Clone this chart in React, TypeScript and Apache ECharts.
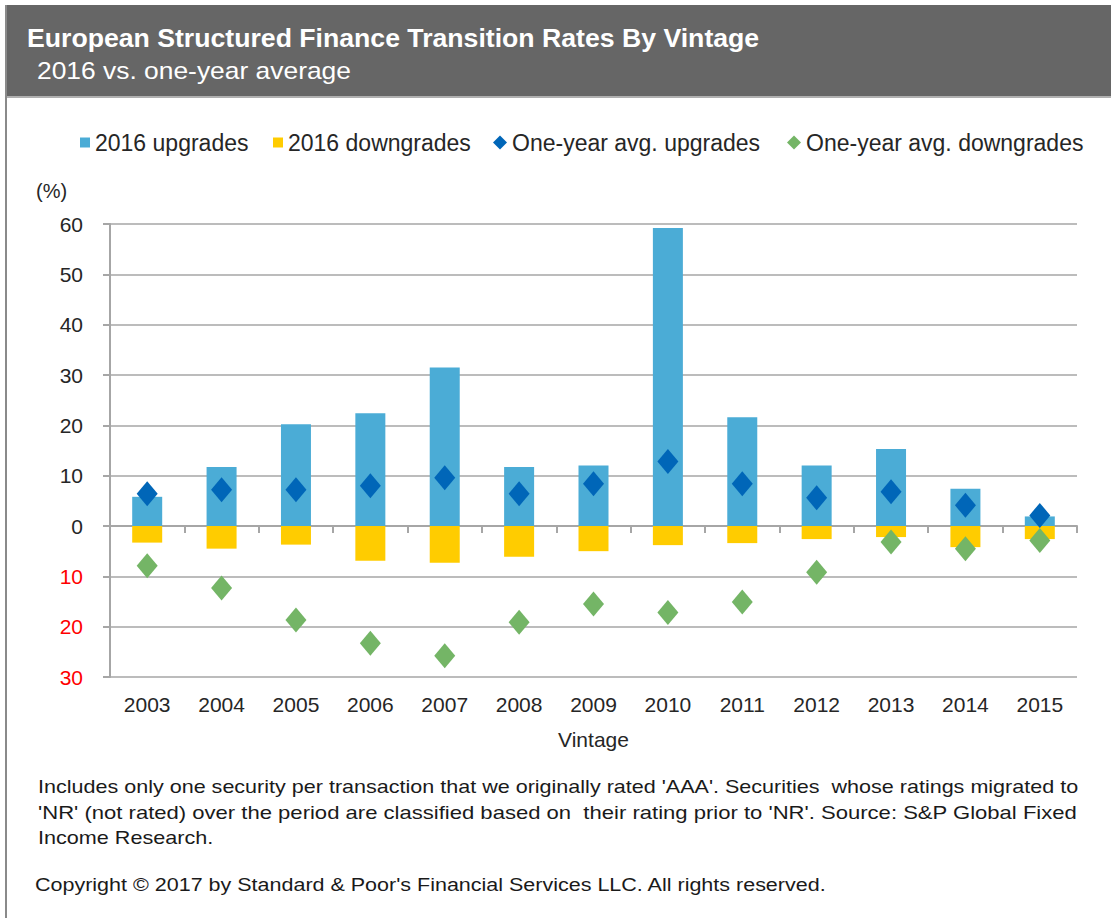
import React, { useEffect, useRef } from "react";
import * as echarts from "echarts";

const years = ["2003", "2004", "2005", "2006", "2007", "2008", "2009", "2010", "2011", "2012", "2013", "2014", "2015"];
const upgrades2016 = [5.8, 11.7, 20.2, 22.4, 31.5, 11.7, 12.0, 59.2, 21.6, 12.0, 15.3, 7.4, 1.9];
const downgrades2016 = [-3.3, -4.5, -3.7, -6.9, -7.3, -6.1, -5.0, -3.8, -3.4, -2.6, -2.2, -4.2, -2.6];
const avgUpgrades = [6.4, 7.2, 7.2, 8.0, 9.6, 6.4, 8.4, 12.8, 8.4, 5.6, 6.8, 4.1, 2.1];
const avgDowngrades = [-7.9, -12.3, -18.7, -23.3, -25.8, -19.1, -15.5, -17.2, -15.1, -9.2, -3.2, -4.5, -2.9];

const seriesNames = ["2016 upgrades", "2016 downgrades", "One-year avg. upgrades", "One-year avg. downgrades"];
const titleText = "European Structured Finance Transition Rates By Vintage";
const subtitleText = "2016 vs. one-year average";
const noteLines = [
  "Includes only one security per transaction that we originally rated 'AAA'. Securities  whose ratings migrated to",
  "'NR' (not rated) over the period are classified based on  their rating prior to 'NR'. Source: S&P Global Fixed",
  "Income Research.",
];
const noteStretch = [1.197, 1.226, 1.2];
const copyrightText = "Copyright \u00A9 2017 by Standard & Poor's Financial Services LLC. All rights reserved.";

const FONT = "'Liberation Sans', Arial, sans-serif";
const C_UP = "#4bacd6";
const C_DOWN = "#ffcc00";
const C_AVG_UP = "#0066b8";
const C_AVG_DOWN = "#74b566";
const GRID = "#a6a6a6";

export default function App() {
  const ref = useRef<HTMLDivElement>(null);
  useEffect(() => {
    document.body.style.margin = "0";
    const chart = echarts.init(ref.current!, null, { renderer: "svg" });
    const legendBase = {
      top: 126,
      itemWidth: 10,
      itemHeight: 10,
      textStyle: { fontFamily: FONT, fontSize: 23, color: "#262626" },
      selectedMode: false,
    };
    chart.setOption({
      animation: false,
      backgroundColor: "#ffffff",
      textStyle: { fontFamily: FONT },
      graphic: [
        { type: "rect", shape: { x: 5, y: 5, width: 1106, height: 91 }, style: { fill: "#666666" } },
        { type: "line", shape: { x1: 5, y1: 97, x2: 1111, y2: 97 }, style: { stroke: "#b0b0b0", lineWidth: 2 } },
        { type: "line", shape: { x1: 6, y1: 5, x2: 6, y2: 918 }, style: { stroke: "#8a8a8a", lineWidth: 2 } },
        { type: "text", x: 27, y: 38, scaleX: 1.025, style: { text: titleText, fill: "#ffffff", font: `bold 26px ${FONT}`, verticalAlign: "middle" } },
        { type: "text", x: 37, y: 70, scaleX: 1.1, style: { text: subtitleText, fill: "#ffffff", font: `24px ${FONT}`, verticalAlign: "middle" } },
        { type: "text", x: 36, y: 191, style: { text: "(%)", fill: "#262626", font: `20px ${FONT}`, verticalAlign: "middle" } },
        ...noteLines.map((t, i) => ({
          type: "text",
          x: 38,
          y: 787 + i * 25.5,
          scaleX: noteStretch[i],
          style: { text: t, fill: "#1a1a1a", font: `18px ${FONT}`, verticalAlign: "middle" },
        })),
        { type: "text", x: 35, y: 885, scaleX: 1.163, style: { text: copyrightText, fill: "#1a1a1a", font: `18.5px ${FONT}`, verticalAlign: "middle" } },
      ],
      legend: [
        { ...legendBase, left: 75, data: [{ name: seriesNames[0], icon: "rect" }] },
        { ...legendBase, left: 268, data: [{ name: seriesNames[1], icon: "rect" }] },
        { ...legendBase, left: 488, itemWidth: 14, itemHeight: 14, data: [{ name: seriesNames[2], icon: "diamond" }] },
        { ...legendBase, left: 782, itemWidth: 14, itemHeight: 14, data: [{ name: seriesNames[3], icon: "diamond" }] },
      ],
      grid: { left: 110, right: 34, top: 224, bottom: 241, containLabel: false },
      xAxis: [
        {
          type: "category",
          data: years,
          position: "bottom",
          axisLine: { show: false, onZero: false },
          axisTick: { show: false },
          axisLabel: { fontFamily: FONT, fontSize: 21, color: "#262626", margin: 17 },
          name: "Vintage",
          nameLocation: "middle",
          nameGap: 52,
          nameTextStyle: { fontFamily: FONT, fontSize: 21, color: "#262626" },
          splitLine: { show: false },
        },
        {
          type: "category",
          data: years,
          position: "top",
          axisLine: { show: true, onZero: true, lineStyle: { color: GRID, width: 2 } },
          axisTick: { show: true, inside: true, length: 7, lineStyle: { color: GRID, width: 2 } },
          axisLabel: { show: false },
          splitLine: { show: false },
        },
      ],
      yAxis: {
        type: "value",
        min: -30,
        max: 60,
        interval: 10,
        axisLine: { show: true, lineStyle: { color: GRID, width: 2 } },
        axisTick: { show: true, length: 7, lineStyle: { color: GRID, width: 2 } },
        splitLine: { show: true, lineStyle: { color: GRID, width: 1.5 } },
        axisLabel: {
          margin: 27,
          formatter: (v: number) => (v < 0 ? `{neg|${-v}}` : `{pos|${v}}`),
          rich: {
            pos: { fontFamily: FONT, fontSize: 21, color: "#262626" },
            neg: { fontFamily: FONT, fontSize: 21, color: "#ff0000" },
          },
        },
      },
      series: [
        {
          name: seriesNames[0],
          type: "bar",
          stack: "v",
          barWidth: 30,
          xAxisIndex: 0,
          data: upgrades2016,
          itemStyle: { color: C_UP },
        },
        {
          name: seriesNames[1],
          type: "bar",
          stack: "v",
          barWidth: 30,
          xAxisIndex: 0,
          data: downgrades2016,
          itemStyle: { color: C_DOWN },
        },
        {
          name: seriesNames[2],
          type: "scatter",
          xAxisIndex: 0,
          symbol: "diamond",
          symbolSize: [21, 25],
          data: avgUpgrades,
          itemStyle: { color: C_AVG_UP, opacity: 1 },
        },
        {
          name: seriesNames[3],
          type: "scatter",
          xAxisIndex: 0,
          symbol: "diamond",
          symbolSize: [21, 25],
          data: avgDowngrades,
          itemStyle: { color: C_AVG_DOWN, opacity: 1 },
        },
      ],
    });
    return () => chart.dispose();
  }, []);
  return <div ref={ref} style={{ width: 1111, height: 918 }} />;
}
